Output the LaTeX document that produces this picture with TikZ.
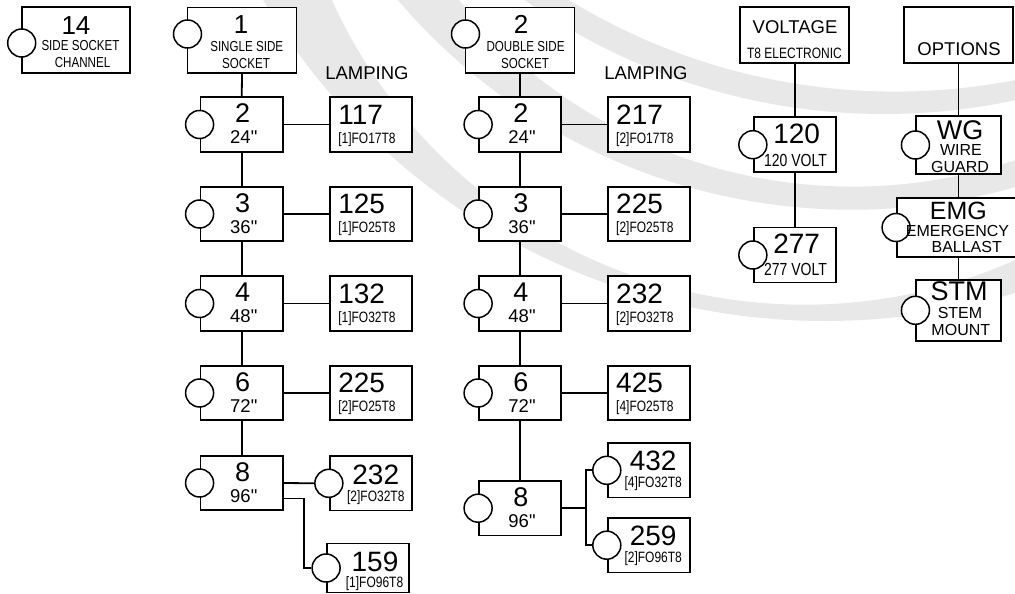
\documentclass[tikz,border=0pt]{standalone}
\usepackage{fontspec}
\setmainfont{Liberation Sans}[Ligatures=TeXOff]
\newfontfamily\narrowfont[FakeStretch=0.8]{Liberation Sans}
\usetikzlibrary{calc}

\tikzset{
  box/.style={draw, fill=white, line width=1.8pt, inner sep=0pt},
  headbox/.style={box, minimum width=109pt, minimum height=65.5pt},
  sizebox/.style={box, minimum width=82.5pt, minimum height=54.5pt},
  lampbox/.style={box, minimum width=82pt, minimum height=54.5pt},
  knob/.style={circle, draw, fill=white, line width=1.5pt, minimum size=28pt, inner sep=0pt},
  link/.style={line width=1.8pt},
  wmark/.style={fill=black!9},
  topnum/.style={font=\fontsize{26}{26}\selectfont, inner sep=0pt, anchor=base},
  numtxt/.style={font=\fontsize{27}{27}\selectfont, inner sep=0pt, anchor=base},
  lampnum/.style={font=\fontsize{28}{28}\selectfont, inner sep=0pt, anchor=base},
  socktxt/.style={font={\narrowfont\fontsize{14.5}{14.5}\selectfont}, inner sep=0pt, anchor=base},
  sizetxt/.style={font=\fontsize{18.5}{18.5}\selectfont, inner sep=0pt, anchor=base},
  codetxt/.style={font={\narrowfont\fontsize{15}{15}\selectfont}, inner sep=0pt, anchor=base},
  volttxt/.style={font={\narrowfont\fontsize{17.5}{17.5}\selectfont}, inner sep=0pt, anchor=base},
  headtxt/.style={font=\fontsize{18.5}{18.5}\selectfont, inner sep=0pt, anchor=base},
  opttxt/.style={font=\fontsize{16}{16}\selectfont, inner sep=0pt, anchor=base}
}

\begin{document}
\begin{tikzpicture}[x=1pt,y=-1pt,line width=1.8pt]
\useasboundingbox (0,0) rectangle (1015,594);
\fill[white] (0,0) rectangle (1015,594);

% ---------------------------------------------- watermark swooshes
\begin{scope}
  \clip (0,0) rectangle (1015,594);
  \foreach \ox/\oy/\orad/\ix/\iy/\irad in {825/-331/652/804.4/-214/518.7,
      852/-387/596.7/852.8/-322.1/508.7, 884/-509/623/895/-533.8/625.4}{
    \begin{scope}
      \clip (\ox,\oy) circle[radius=\orad pt];
      \fill[wmark, even odd rule] (0,0) rectangle (1015,594) (\ix,\iy) circle[radius=\irad pt];
    \end{scope}
  }
\end{scope}

% ---------------------------------------------- head boxes
\node[headbox, minimum width=108.3pt] (chan) at (75.8,40) {};
\node[knob] (chan-c) at (21.7,43) {};
\node[topnum] (chan-n) at (76,35) {14};
\node[socktxt] (chan-t1) at (80.5,50.7) {SIDE SOCKET};
\node[socktxt] (chan-t2) at (82.5,67.7) {CHANNEL};

\node[headbox] (single) at (242,40.2) {};
\node[knob] (single-c) at (187.5,34) {};
\node[topnum] (single-n) at (241,33.3) {1};
\node[socktxt] (single-t1) at (246.7,51.7) {SINGLE SIDE};
\node[socktxt] (single-t2) at (246,68.3) {SOCKET};

\node[headbox] (double) at (520,40.2) {};
\node[knob] (double-c) at (465.5,34) {};
\node[topnum] (double-n) at (521,33.3) {2};
\node[socktxt] (double-t1) at (525.5,51.7) {DOUBLE SIDE};
\node[socktxt] (double-t2) at (525,68.3) {SOCKET};

\node[headbox, minimum height=55.7pt] (volt) at (794.75,35.2) {};
\node[headtxt] (volt-t1) at (795,33.3) {VOLTAGE};
\node[codetxt] (volt-t2) at (794.5,58.3) {T8 ELECTRONIC};

\node[headbox, minimum height=55.7pt, minimum width=109.5pt] (opts) at (958.5,35.2) {};
\node[headtxt] (opts-t) at (959,56) {OPTIONS};

\node[headtxt] (lamp-a) at (367,79.5) {LAMPING};
\node[headtxt] (lamp-b) at (646,79.5) {LAMPING};

% ---------------------------------------------- single side column
\foreach \row/\yy/\n/\len/\lnum/\lcode in {1/124.5/2/24/117/[1]FO17T8,
    2/214/3/36/125/[1]FO25T8, 3/303.5/4/48/132/[1]FO32T8, 4/393/6/72/225/[2]FO25T8}{
  \node[sizebox] (ss\row) at (241.75,\yy) {};
  \node[knob] (ss\row-c) at (ss\row.west) {};
  \node[numtxt] (ss\row-n) at ($(ss\row)+(1,-2)$) {\n};
  \node[sizetxt] (ss\row-t) at ($(ss\row)+(2,19)$) {\len"};
  \node[lampbox] (ssl\row) at (370.75,\yy) {};
  \node[lampnum, anchor=base west] (ssl\row-n) at ($(ssl\row.west)+(8.5,-0.5)$) {\lnum};
  \node[codetxt, anchor=base west] (ssl\row-t) at ($(ssl\row.west)+(8.5,18.5)$) {\lcode};
}
\node[sizebox] (ss5) at (241.75,483) {};
\node[knob] (ss5-c) at (ss5.west) {};
\node[numtxt] (ss5-n) at ($(ss5)+(1,-2)$) {8};
\node[sizetxt] (ss5-t) at ($(ss5)+(2,19)$) {96"};

\node[lampbox] (ssl5) at (370.75,483.3) {};
\node[knob] (ssl5-c) at (ssl5.west) {};
\node[lampnum] (ssl5-n) at ($(ssl5)+(5,1)$) {232};
\node[codetxt] (ssl5-t) at ($(ssl5)+(5,18)$) {[2]FO32T8};

\node[lampbox, minimum height=49pt] (ssl6) at (368,568) {};
\node[knob] (ssl6-c) at (ssl6.west) {};
\node[lampnum] (ssl6-n) at ($(ssl6)+(7,3)$) {159};
\node[codetxt] (ssl6-t) at ($(ssl6)+(6.5,19)$) {[1]FO96T8};

% ---------------------------------------------- double side column
\foreach \row/\yy/\n/\len/\lnum/\lcode in {1/124.5/2/24/217/[2]FO17T8,
    2/214/3/36/225/[2]FO25T8, 3/303.5/4/48/232/[2]FO32T8, 4/393/6/72/425/[4]FO25T8}{
  \node[sizebox, minimum width=82pt] (ds\row) at (520,\yy) {};
  \node[knob] (ds\row-c) at (ds\row.west) {};
  \node[numtxt] (ds\row-n) at ($(ds\row)+(1,-2)$) {\n};
  \node[sizetxt] (ds\row-t) at ($(ds\row)+(2,19)$) {\len"};
  \node[lampbox] (dsl\row) at (648.7,\yy) {};
  \node[lampnum, anchor=base west] (dsl\row-n) at ($(dsl\row.west)+(8.5,-0.5)$) {\lnum};
  \node[codetxt, anchor=base west] (dsl\row-t) at ($(dsl\row.west)+(8.5,18.5)$) {\lcode};
}
\node[sizebox, minimum width=82pt] (ds5) at (520,508.2) {};
\node[knob] (ds5-c) at (ds5.west) {};
\node[numtxt] (ds5-n) at ($(ds5)+(1,-2)$) {8};
\node[sizetxt] (ds5-t) at ($(ds5)+(2,19)$) {96"};

\node[lampbox] (dsl5) at (648.7,470.3) {};
\node[knob] (dsl5-c) at (dsl5.west) {};
\node[lampnum] (dsl5-n) at ($(dsl5)+(4.5,0)$) {432};
\node[codetxt] (dsl5-t) at ($(dsl5)+(4.5,17.5)$) {[4]FO32T8};

\node[lampbox] (dsl6) at (648.7,545.2) {};
\node[knob] (dsl6-c) at (dsl6.west) {};
\node[lampnum] (dsl6-n) at ($(dsl6)+(4.5,0)$) {259};
\node[codetxt] (dsl6-t) at ($(dsl6)+(4.5,17.5)$) {[2]FO96T8};

% ---------------------------------------------- voltage
\node[sizebox, minimum width=82pt, minimum height=55pt] (v120) at (794.75,144.7) {};
\node[knob] (v120-c) at (v120.west) {};
\node[lampnum] (v120-n) at (796.7,143.3) {120};
\node[volttxt] (v120-t) at (795.5,166) {120 VOLT};

\node[sizebox, minimum width=82pt, minimum height=55pt] (v277) at (794.75,255) {};
\node[knob] (v277-c) at (v277.west) {};
\node[lampnum] (v277-n) at (796.7,253.3) {277};
\node[volttxt] (v277-t) at (795.5,275) {277 VOLT};

% ---------------------------------------------- options
\node[box, minimum width=84.3pt, minimum height=58pt] (wg) at (958.5,145) {};
\node[knob] (wg-c) at (wg.west) {};
\node[numtxt] (wg-n) at (960,139) {WG};
\node[opttxt] (wg-t1) at (961,155.5) {WIRE};
\node[opttxt] (wg-t2) at (960,172.5) {GUARD};

\node[box, minimum width=123pt, minimum height=58.4pt] (emg) at (958.5,227.5) {};
\node[knob] (emg-c) at (emg.west) {};
\node[numtxt, font=\fontsize{25}{25}\selectfont] (emg-n) at (958.3,219) {EMG};
\node[opttxt] (emg-t1) at (957.5,236) {EMERGENCY};
\node[opttxt] (emg-t2) at (966.7,252) {BALLAST};

\node[box, minimum width=84.3pt, minimum height=60.7pt] (stm) at (958.5,310.3) {};
\node[knob] (stm-c) at (stm.west) {};
\node[numtxt] (stm-n) at (959,300.5) {STM};
\node[opttxt] (stm-t1) at (960,318) {STEM};
\node[opttxt] (stm-t2) at (960.8,335.5) {MOUNT};

% ---------------------------------------------- connectors
\draw[link] (single.south) -- (ss1.north);
\draw[link] (double.south) -- (ds1.north);
\foreach \a/\b in {1/2,2/3,3/4,4/5}{
  \draw[link] (ss\a.south) -- (ss\b.north);
  \draw[link] (ds\a.south) -- (ds\b.north);
}
\foreach \row in {1,...,4}{
  \draw[link] (ss\row.east) -- (ssl\row.west);
  \draw[link] (ds\row.east) -- (dsl\row.west);
}
\draw[link] (ss5.east) -- (ssl5-c.west);
\draw[link] ($(ss5.east)+(0,15.5)$) -- ++(20,0) |- (ssl6-c.west);

\coordinate (fork) at ($(ds5.east)+(24,0)$);
\draw[link] (ds5.east) -- (fork);
\draw[link] (dsl5-c.west) -| (fork) |- (dsl6-c.west);

\draw[link] (volt.south) -- (v120.north);
\draw[link] (v120.south) -- (v277.north);
\draw[link] (opts.south) -- (wg.north);
\draw[link] (wg.south) -- (emg.north);
\draw[link] (emg.south) -- (stm.north);

\end{tikzpicture}
\end{document}
